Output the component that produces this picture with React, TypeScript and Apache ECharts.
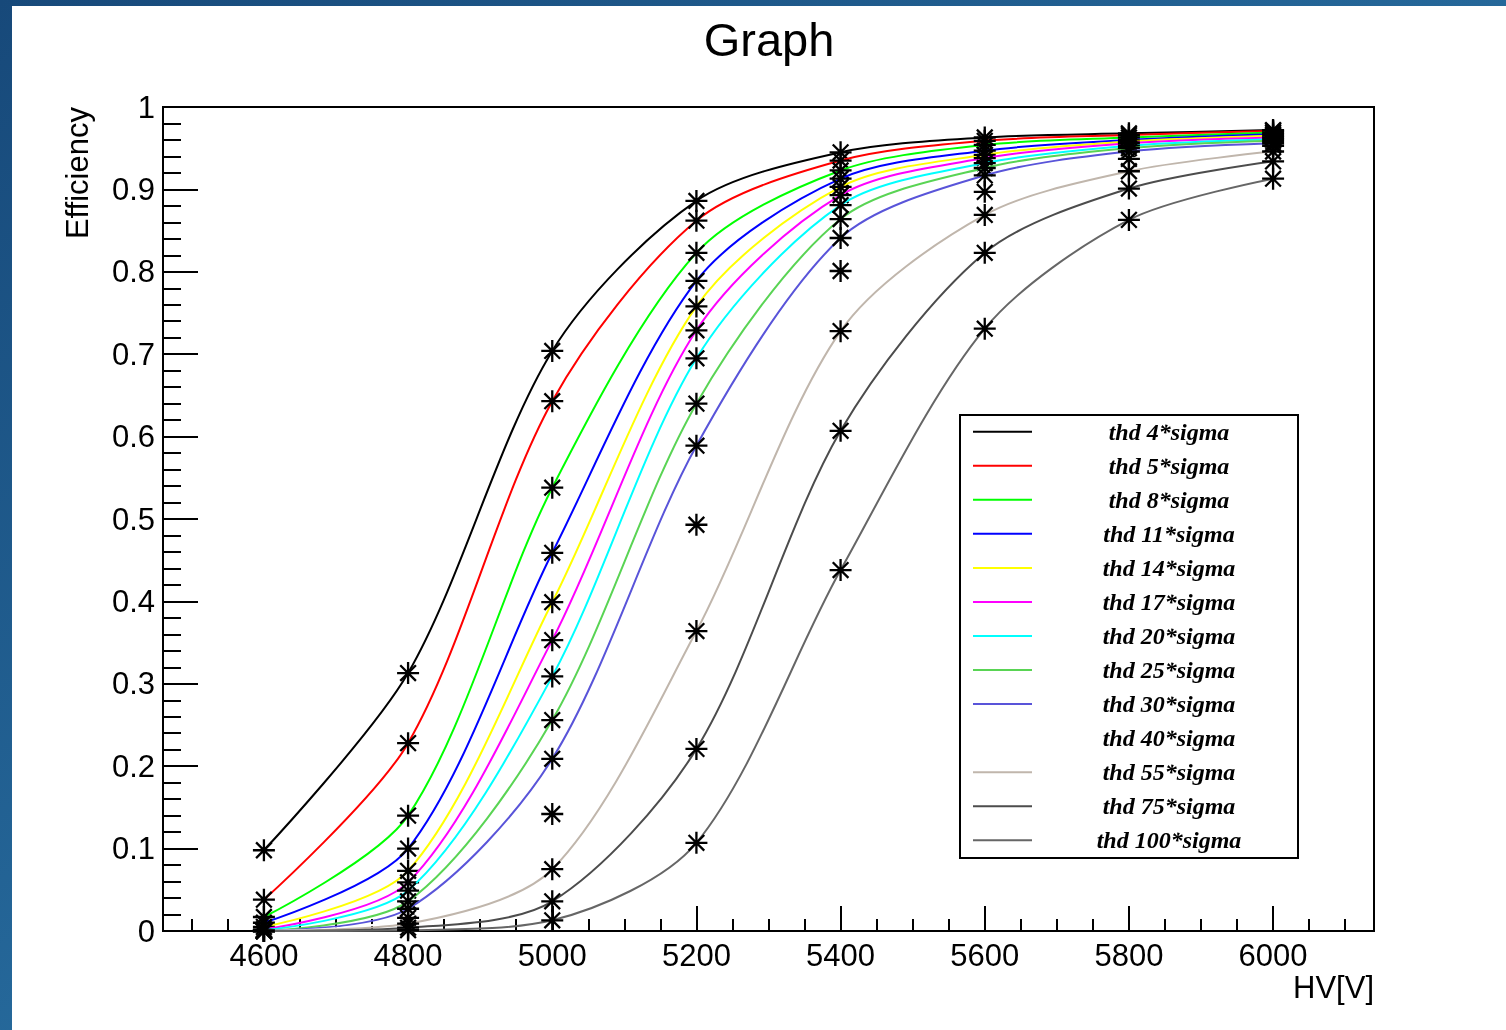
import React, { useEffect, useRef } from "react";
import * as echarts from "echarts";

// High voltage scan points [V]
const hv = [4600, 4800, 5000, 5200, 5400, 5600, 5800, 6000];

// Threshold settings, in units of sigma
const thresholds = [4, 5, 8, 11, 14, 17, 20, 25, 30, 40, 55, 75, 100];

// Line colours, one per threshold
const lineColors = [
  "#000000",
  "#ff0000",
  "#00ff00",
  "#0000ff",
  "#ffff00",
  "#ff00ff",
  "#00ffff",
  "#59d454",
  "#5954d9",
  "#ffffff",
  "#c0b6ac",
  "#4c4c4c",
  "#666666",
];

// Measured efficiency at each HV point
const eff4 = [0.098, 0.313, 0.704, 0.886, 0.945, 0.963, 0.968, 0.972];
const eff5 = [0.038, 0.228, 0.643, 0.862, 0.935, 0.959, 0.966, 0.971];
const eff8 = [0.017, 0.14, 0.538, 0.823, 0.923, 0.954, 0.963, 0.969];
const eff11 = [0.01, 0.1, 0.459, 0.789, 0.913, 0.947, 0.96, 0.967];
const eff14 = [0.005, 0.073, 0.399, 0.758, 0.903, 0.942, 0.958, 0.965];
const eff17 = [0.002, 0.059, 0.353, 0.729, 0.893, 0.938, 0.956, 0.963];
const eff20 = [0.001, 0.049, 0.309, 0.695, 0.881, 0.932, 0.953, 0.961];
const eff25 = [0.0, 0.036, 0.256, 0.64, 0.864, 0.926, 0.95, 0.959];
const eff30 = [0.0, 0.027, 0.209, 0.589, 0.841, 0.917, 0.946, 0.956];
const eff40 = [0.0, 0.016, 0.142, 0.493, 0.801, 0.897, 0.937, 0.953];
const eff55 = [0.0, 0.009, 0.075, 0.364, 0.728, 0.869, 0.922, 0.946];
const eff75 = [0.0, 0.004, 0.036, 0.221, 0.607, 0.823, 0.901, 0.934];
const eff100 = [0.0, 0.001, 0.013, 0.107, 0.438, 0.731, 0.863, 0.913];

const efficiencies = [
  eff4, eff5, eff8, eff11, eff14, eff17, eff20, eff25, eff30, eff40, eff55, eff75, eff100,
];

// Axis ticks
const xMajorTicks = [4600, 4800, 5000, 5200, 5400, 5600, 5800, 6000];
const xMinorTicks = [
  4500, 4550, 4600, 4650, 4700, 4750, 4800, 4850, 4900, 4950, 5000, 5050, 5100,
  5150, 5200, 5250, 5300, 5350, 5400, 5450, 5500, 5550, 5600, 5650, 5700, 5750,
  5800, 5850, 5900, 5950, 6000, 6050, 6100,
];

// Asterisk marker: horizontal, vertical and two diagonal strokes
const ASTERISK = "path://M0 8 L16 8 M8 0 L8 16 M2.3 2.3 L13.7 13.7 M13.7 2.3 L2.3 13.7";

const SANS = "'Liberation Sans', Arial, Helvetica, sans-serif";
const SERIF = "'Liberation Serif', 'Times New Roman', serif";

const W = 1506;
const H = 1030;
const GRID = { left: 163, top: 107, right: 1374, bottom: 931 };

export default function App() {
  const ref = useRef<HTMLDivElement>(null);

  useEffect(() => {
    if (!ref.current) return;
    const chart = echarts.init(ref.current, null, { renderer: "svg" });

    const series = thresholds.map((t, k) => ({
      name: `thd ${t}*sigma`,
      type: "line",
      xAxisIndex: 0,
      yAxisIndex: 0,
      data: hv.map((x, i) => [x, efficiencies[k][i]]),
      smooth: 0.3,
      clip: true,
      symbol: ASTERISK,
      symbolSize: 22,
      showSymbol: true,
      itemStyle: { color: "#000", borderColor: "#000", borderWidth: 2.3 },
      lineStyle: { color: lineColors[k], width: 2 },
      emphasis: { disabled: true },
      z: 2 + k,
    }));

    // Legend drawn as a framed box of line samples and centred labels
    const legX = 960;
    const legY = 415;
    const legW = 338;
    const legH = 443;
    const row0 = 431.7;
    const rowStep = 34.05;
    const legendItems: any[] = [
      {
        type: "rect",
        z: 100,
        shape: { x: legX, y: legY, width: legW, height: legH },
        style: { fill: "#fff", stroke: "#000", lineWidth: 2 },
      },
    ];
    thresholds.forEach((t, k) => {
      const y = row0 + k * rowStep;
      legendItems.push({
        type: "line",
        z: 101,
        shape: { x1: 973, y1: y, x2: 1032, y2: y },
        style: { stroke: lineColors[k], lineWidth: 2 },
      });
      legendItems.push({
        type: "text",
        z: 101,
        x: 1169,
        y: y,
        style: {
          text: `thd ${t}*sigma`,
          fill: "#000",
          fontFamily: SERIF,
          fontSize: 24,
          fontWeight: "bold",
          fontStyle: "italic",
          align: "center",
          verticalAlign: "middle",
        },
      });
    });

    const option: any = {
      animation: false,
      backgroundColor: "transparent",
      grid: {
        left: GRID.left,
        top: GRID.top,
        width: GRID.right - GRID.left,
        height: GRID.bottom - GRID.top,
        show: true,
        backgroundColor: "#fff",
        borderColor: "#000",
        borderWidth: 2,
        containLabel: false,
      },
      xAxis: [
        {
          type: "value",
          min: 4460,
          max: 6140,
          position: "bottom",
          axisLine: { show: false },
          splitLine: { show: false },
          axisTick: {
            show: true,
            inside: true,
            length: 25,
            customValues: xMajorTicks,
            lineStyle: { color: "#000", width: 2 },
          },
          axisLabel: {
            show: true,
            customValues: xMajorTicks,
            formatter: (v: number) => String(v),
            margin: 9,
            color: "#000",
            fontSize: 31,
            fontFamily: SANS,
          },
        },
        {
          type: "value",
          min: 4460,
          max: 6140,
          position: "bottom",
          gridIndex: 0,
          axisLine: { show: false },
          splitLine: { show: false },
          axisTick: {
            show: true,
            inside: true,
            length: 12,
            customValues: xMinorTicks,
            lineStyle: { color: "#000", width: 2 },
          },
          axisLabel: { show: false },
        },
      ],
      yAxis: {
        type: "value",
        min: 0,
        max: 1,
        interval: 0.1,
        axisLine: { show: false },
        splitLine: { show: false },
        axisTick: {
          show: true,
          inside: true,
          length: 35,
          lineStyle: { color: "#000", width: 2 },
        },
        minorTick: {
          show: true,
          splitNumber: 5,
          length: 18,
          lineStyle: { color: "#000", width: 2 },
        },
        minorSplitLine: { show: false },
        axisLabel: {
          margin: 8,
          color: "#000",
          fontSize: 31,
          fontFamily: SANS,
        },
      },
      series,
      graphic: [
        {
          type: "rect",
          z: -10,
          silent: true,
          shape: { x: 0, y: 0, width: W, height: H },
          style: {
            fill: new echarts.graphic.LinearGradient(0, 0, 1, 1, [
              { offset: 0, color: "#17497a" },
              { offset: 1, color: "#3386b9" },
            ]),
          },
        },
        {
          type: "rect",
          z: -9,
          silent: true,
          shape: { x: 12, y: 6, width: W - 12, height: H - 6 },
          style: { fill: "#fff" },
        },
        {
          type: "text",
          z: 100,
          x: 769,
          y: 39,
          style: {
            text: "Graph",
            fill: "#000",
            fontFamily: SANS,
            fontSize: 47,
            align: "center",
            verticalAlign: "middle",
          },
        },
        {
          type: "text",
          z: 100,
          x: GRID.right,
          y: 987,
          style: {
            text: "HV[V]",
            fill: "#000",
            fontFamily: SANS,
            fontSize: 31,
            align: "right",
            verticalAlign: "middle",
          },
        },
        {
          type: "text",
          z: 100,
          x: 77,
          y: GRID.top,
          rotation: Math.PI / 2,
          style: {
            text: "Efficiency",
            fill: "#000",
            fontFamily: SANS,
            fontSize: 31,
            align: "right",
            verticalAlign: "middle",
          },
        },
        ...legendItems,
      ],
    };

    chart.setOption(option);
    return () => chart.dispose();
  }, []);

  return (
    <div
      ref={ref}
      style={{ position: "fixed", left: 0, top: 0, width: W, height: H }}
    />
  );
}
